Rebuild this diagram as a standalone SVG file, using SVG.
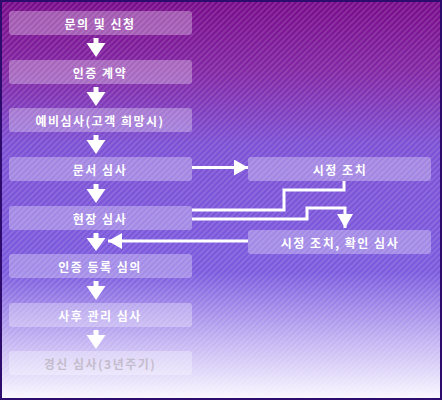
<svg xmlns="http://www.w3.org/2000/svg" width="442" height="400" viewBox="0 0 442 400">
<defs>
<linearGradient id="bg" x1="0" y1="0" x2="0" y2="1">
<stop offset="0" stop-color="#780a8a"/>
<stop offset="0.18" stop-color="#8226a4"/>
<stop offset="0.36" stop-color="#7c50d4"/>
<stop offset="0.68" stop-color="#7b5ade"/>
<stop offset="0.85" stop-color="#c2b2f2"/>
<stop offset="1" stop-color="#fbf9ff"/>
</linearGradient>
<pattern id="stripes" width="4" height="4" patternUnits="userSpaceOnUse" patternTransform="rotate(45)">
<rect x="0" y="0" width="1.5" height="4" fill="#ffffff" fill-opacity="0.16"/>
</pattern>
<marker id="ah" viewBox="0 0 14 16" refX="14" refY="8" markerWidth="14" markerHeight="16" markerUnits="userSpaceOnUse" orient="auto">
<path d="M0,0 L14,8 L0,16 Z" fill="#ffffff"/>
</marker>
</defs>
<style>
.box{fill:#ffffff;fill-opacity:0.3;}
.t{font-family:"Noto Sans CJK KR","Noto Sans",sans-serif;font-size:12px;font-weight:bold;fill:#ffffff;text-anchor:middle;dominant-baseline:central;letter-spacing:1.5px;}
.c{fill:none;stroke:#ffffff;stroke-width:3;}
.dn{fill:#ffffff;}
</style>
<rect x="0" y="0" width="442" height="400" fill="url(#bg)"/>
<rect x="0" y="0" width="442" height="400" fill="url(#stripes)"/>
<rect x="1" y="1" width="440" height="398" fill="none" stroke="#2e0c6e" stroke-width="2"/>

<g id="n1"><rect class="box" x="9" y="11" width="183" height="24" rx="3"/><text class="t" x="100" y="23">문의 및 신청</text></g>
<g id="n2"><rect class="box" x="9" y="60" width="183" height="24" rx="3"/><text class="t" x="100" y="72">인증 계약</text></g>
<g id="n3"><rect class="box" x="9" y="108" width="183" height="24" rx="3"/><text class="t" x="100" y="120">예비심사(고객 희망시)</text></g>
<g id="n4"><rect class="box" x="9" y="157" width="183" height="24" rx="3"/><text class="t" x="100" y="169">문서 심사</text></g>
<g id="n5"><rect class="box" x="9" y="206" width="183" height="24" rx="3"/><text class="t" x="100" y="218">현장 심사</text></g>
<g id="n6"><rect class="box" x="9" y="254" width="183" height="24" rx="3"/><text class="t" x="100" y="266">인증 등록 심의</text></g>
<g id="n7"><rect class="box" x="9" y="303" width="183" height="24" rx="3"/><text class="t" x="100" y="315">사후 관리 심사</text></g>
<g id="n8"><rect class="box" x="9" y="351" width="183" height="24" rx="3" fill-opacity="0.2"/><text class="t" x="100" y="363" style="fill:#c4bccc">경신 심사(3년주기)</text></g>
<g id="n9"><rect class="box" x="248" y="157" width="183" height="24" rx="3"/><text class="t" x="340" y="169">시정 조치</text></g>
<g id="n10"><rect class="box" x="248" y="230" width="183" height="24" rx="3"/><text class="t" x="340" y="242">시정 조치, 확인 심사</text></g>

<g id="connectors">
<path class="dn" d="M93.5,38 h5 v5 h7 l-9.5,14 l-9.5,-14 h7 Z"/>
<path class="dn" d="M93.5,87 h5 v5 h7 l-9.5,14 l-9.5,-14 h7 Z"/>
<path class="dn" d="M93.5,135 h5 v5 h7 l-9.5,14 l-9.5,-14 h7 Z"/>
<path class="dn" d="M93.5,184 h5 v5 h7 l-9.5,14 l-9.5,-14 h7 Z"/>
<path class="dn" d="M93.5,233 h5 v5 h7 l-9.5,13 l-9.5,-13 h7 Z"/>
<path class="dn" d="M93.5,281 h5 v5 h7 l-9.5,14 l-9.5,-14 h7 Z"/>
<path class="dn" d="M93.5,330 h5 v5 h7 l-9.5,14 l-9.5,-14 h7 Z"/>
<path class="c" d="M192,167.5 H248" marker-end="url(#ah)"/>
<path class="c" d="M344,181 V190 H284 V210 H192"/>
<path class="c" d="M192,219 H307 V208 H345 V228" marker-end="url(#ah)"/>
<path class="c" d="M248,241 H108" marker-end="url(#ah)"/>
</g>
</svg>
